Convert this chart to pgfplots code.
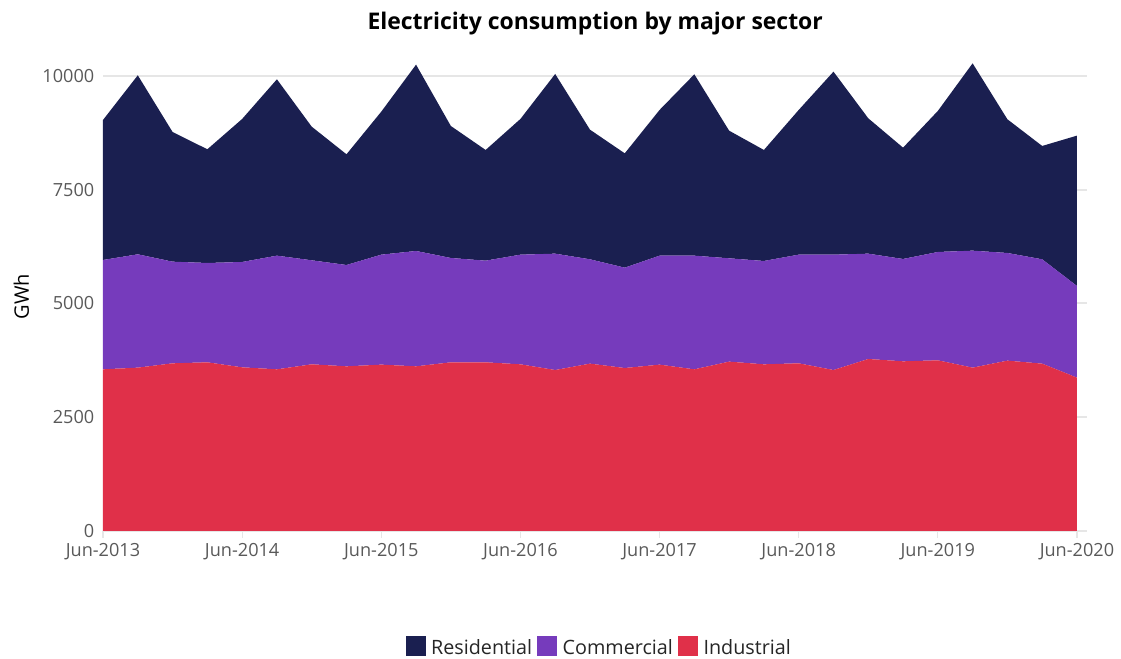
\documentclass[border=0pt]{standalone}
\usepackage{pgfplots}
\pgfplotsset{compat=1.18}
\usepackage{fontspec}
\setmainfont{Open Sans}

\definecolor{resid}{HTML}{1A1F50}
\definecolor{comm}{HTML}{763BBC}
\definecolor{indus}{HTML}{E03049}
\definecolor{gridgray}{HTML}{E6E6E6}
\definecolor{ticktext}{HTML}{595959}

% quarterly values, GWh (index 0 = Jun-2013)
\pgfplotstableread{
x ind com res
0  3553 2403 3077
1  3590 2491 3934
2  3685 2234 2850
3  3707 2183 2499
4  3597 2315 3143
5  3553 2498 3876
6  3663 2286 2937
7  3619 2227 2433
8  3656 2417 3143
9  3619 2535 4095
10 3707 2293 2901
11 3707 2234 2433
12 3663 2410 2982
13 3538 2557 3949
14 3678 2293 2849
15 3582 2205 2513
16 3656 2395 3202
17 3553 2498 3986
18 3722 2271 2805
19 3663 2271 2440
20 3685 2388 3180
21 3538 2535 4022
22 3780 2315 2975
23 3729 2249 2447
24 3751 2381 3099
25 3590 2571 4117
26 3744 2366 2938
27 3678 2293 2491
28 3370 2015 3304
}\elec

\begin{document}
\begin{tikzpicture}
\path[use as bounding box] (-77.25pt,-96pt) rectangle (763.5pt,398.25pt);
\begin{axis}[
  at={(0,0)}, anchor=south west,
  scale only axis,
  width=738.3pt, height=351.5pt,
  xmin=0, xmax=28.3,
  ymin=0, ymax=10300,
  stack plots=y,
  axis y line*=left,
  y axis line style={draw=none},
  axis x line*=bottom,
  x axis line style={gridgray, line width=1.2pt, -},
  xtick={0,4,...,28},
  xticklabels={Jun-2013,Jun-2014,Jun-2015,Jun-2016,Jun-2017,Jun-2018,Jun-2019,Jun-2020},
  x tick style={gridgray, line width=0.8pt},
  tick align=outside,
  major tick length=5pt,
  ytick={0,2500,5000,7500,10000},
  scaled y ticks=false,
  ymajorgrids,
  grid style={gridgray, line width=1.5pt},
  y tick style={draw=none},
  /pgf/number format/1000 sep={},
  /pgf/number format/assume math mode=true,
  ticklabel style={font=\fontsize{13.6}{16}\selectfont, text=ticktext},
  xticklabel style={yshift=-1pt},
  yticklabel style={xshift=2pt},
  ylabel={GWh},
  ylabel style={font=\fontsize{15}{17}\selectfont, at={(axis description cs:-0.083,0.5)}, anchor=center},
  title={\textbf{Electricity consumption by major sector}},
  title style={font=\fontsize{17.2}{20}\selectfont, at={(axis description cs:0.5,1.066)}, anchor=center},
  reverse legend,
  legend columns=3,
  legend style={draw=none, at={(axis description cs:0.5045,-0.249)}, anchor=center,
    font=\fontsize{14.8}{17}\selectfont, column sep=2pt, text=black!85,
    inner sep=1pt, outer sep=0pt},
  legend image code/.code={\fill[#1] (0pt,-6pt) rectangle (15pt,9pt);},
]
\addplot[fill=indus, draw=none] table[x=x, y=ind] {\elec} \closedcycle;
\addlegendentry{Industrial}
\addplot[fill=comm, draw=none] table[x=x, y=com] {\elec} \closedcycle;
\addlegendentry{Commercial}
\addplot[fill=resid, draw=none] table[x=x, y=res] {\elec} \closedcycle;
\addlegendentry{Residential}
\end{axis}
\end{tikzpicture}
\end{document}
